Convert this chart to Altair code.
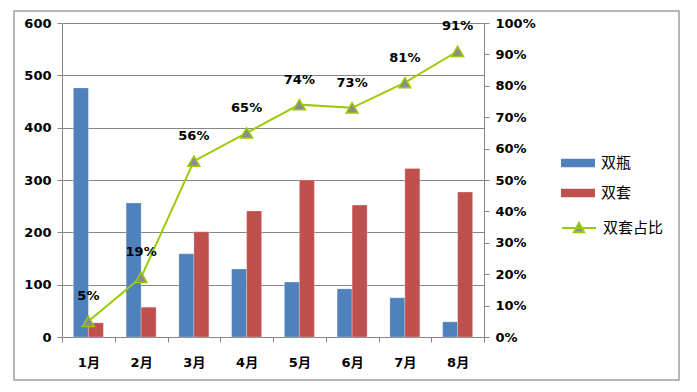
import altair as alt
import pandas as pd

months = ["1月", "2月", "3月", "4月", "5月", "6月", "7月", "8月"]
shuangping = [476, 256, 159, 130, 105, 92, 75, 29]
shuangtao = [27, 57, 201, 241, 300, 252, 322, 277]
ratio = [0.05, 0.19, 0.56, 0.65, 0.74, 0.73, 0.81, 0.91]
pct_ticks = [0.0, 0.1, 0.2, 0.3, 0.4, 0.5, 0.6, 0.7, 0.8, 0.9, 1.0]
series = ["双瓶", "双套"]
line_name = "双套占比"

BLUE = "#4F81BD"
RED = "#C0504D"
GREEN = "#99CC00"
GRAY = "#8C8C8C"
AXIS = "#868686"
FONT = "DejaVu Sans, Noto Sans CJK SC"

bars_df = pd.DataFrame({
    "month": months * 2,
    "series": [series[0]] * len(months) + [series[1]] * len(months),
    "value": shuangping + shuangtao,
})
line_df = pd.DataFrame({"month": months, "ratio": ratio, "name": [line_name] * len(months)})

x_scale = alt.Scale(domain=months, paddingInner=0, paddingOuter=0)

bars = alt.Chart(bars_df).mark_bar(stroke="white", strokeOpacity=0.5, strokeWidth=0.5).encode(
    x=alt.X("month:N", scale=x_scale, sort=months, title=None,
            axis=alt.Axis(labelAngle=0, tickBand="extent", tickSize=5, labelPadding=14,
                          domainColor=AXIS, tickColor=AXIS)),
    xOffset=alt.XOffset("series:N", sort=series,
                        scale=alt.Scale(domain=series, paddingInner=0, paddingOuter=0.758)),
    y=alt.Y("value:Q", scale=alt.Scale(domain=[0, 600]), title=None,
            axis=alt.Axis(values=[0, 100, 200, 300, 400, 500, 600], grid=True, gridColor=AXIS,
                          tickSize=5, labelPadding=6, domainColor=AXIS, tickColor=AXIS,
                          labelOverlap=False)),
    color=alt.Color("series:N", sort=series,
                    scale=alt.Scale(domain=series, range=[BLUE, RED]),
                    legend=alt.Legend(title=None, orient="none", legendX=499, legendY=123,
                                      symbolType="M-1,-0.25H1V0.25H-1Z", symbolSize=1156,
                                      symbolStrokeWidth=0, labelFont=FONT, labelFontSize=15,
                                      labelFontWeight="normal", labelColor="black",
                                      labelOffset=6, rowPadding=5, padding=0)),
)

pct_axis = alt.Axis(orient="right", format=".0%", values=pct_ticks, tickCount=11,
                    grid=False, tickSize=5, labelPadding=6, domainColor=AXIS,
                    tickColor=AXIS, labelOverlap=False)
pct_y = alt.Y("ratio:Q", scale=alt.Scale(domain=[0, 1], nice=False), title=None, axis=pct_axis)

line = alt.Chart(line_df).mark_line(
    strokeWidth=2,
    point=alt.OverlayMarkDef(shape="triangle-up", filled=True, fill=GRAY, stroke=GREEN,
                             strokeWidth=1.5, size=140, opacity=1),
).encode(
    x=alt.X("month:N", scale=x_scale, sort=months),
    y=pct_y,
    stroke=alt.Stroke("name:N", scale=alt.Scale(domain=[line_name], range=[GREEN]),
                      legend=alt.Legend(title=None, orient="none", legendX=499, legendY=187,
                                        symbolType="M-1,0H1M-0.3,0.25L0,-0.3L0.3,0.25Z",
                                        symbolSize=1156, symbolStrokeWidth=2,
                                        symbolFillColor=GRAY, labelFont=FONT,
                                        labelFontSize=15, labelFontWeight="normal",
                                        labelColor="black", labelOffset=6, padding=0)),
)

labels = alt.Chart(line_df).mark_text(
    dy=-25, fontWeight="bold", fontSize=13, font=FONT, color="black"
).encode(
    x=alt.X("month:N", scale=x_scale, sort=months),
    y=pct_y,
    text=alt.Text("ratio:Q", format=".0%"),
)

frame = alt.Chart(pd.DataFrame({"a": [0]})).mark_rect(
    fillOpacity=0, stroke="#A0A0A0", strokeWidth=1.5
).encode(
    x=alt.value(-48), x2=alt.value(617), y=alt.value(-12), y2=alt.value(357)
)

chart = alt.layer(frame, bars, alt.layer(line, labels)).resolve_scale(
    y="independent", color="independent", stroke="independent"
).properties(
    width=422, height=314,
    background="white",
    autosize=alt.AutoSizeParams(type="none"),
    padding={"left": 54, "top": 15, "right": 205, "bottom": 47},
).configure_view(stroke=None).configure_axis(
    labelFont=FONT, labelFontWeight="bold", labelFontSize=13, labelColor="black",
)

chart.save("out.html", embed_options={"renderer": "svg", "actions": False})
